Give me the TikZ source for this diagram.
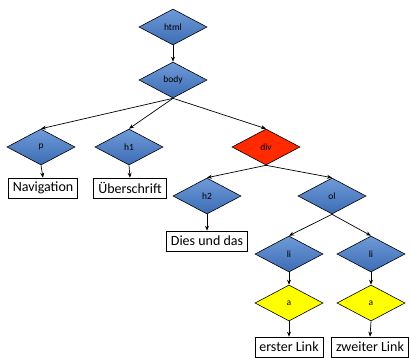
\documentclass[tikz,border=0pt]{standalone}
\usepackage{fontspec}
\setmainfont{Carlito}
\usetikzlibrary{shapes.geometric}
\usetikzlibrary{arrows.meta}
\definecolor{tagtop}{HTML}{6F9AD8}
\definecolor{tagbot}{HTML}{3C6CB4}
\definecolor{divred}{HTML}{FF2A00}
\definecolor{linkyel}{HTML}{FFFF00}
\tikzset{
  tag/.style={diamond, draw=black, line width=0.6pt, inner sep=0pt,
    minimum width=68pt, minimum height=36pt, aspect=1.9,
    top color=tagtop, bottom color=tagbot, font=\fontsize{9.5}{10}\selectfont},
  box/.style={draw=black, line width=0.6pt, fill=white, inner xsep=4.5pt, inner ysep=2pt,
    minimum height=20pt, font=\fontsize{14}{16}\selectfont},
  edge/.style={-{Stealth[length=5pt,width=4pt]}, line width=0.7pt}
}

\begin{document}
\begin{tikzpicture}[x=1pt, y=-1pt]

    \useasboundingbox (0, 0) rectangle (410, 357);

    \node [tag] (html) at (173, 27) {html};
    \node [tag] (body) at (173, 80) {body};

    \node [tag] (p) at (41, 147) {p};
    \node [tag] (h1) at (129, 147) {h1};
    \node [tag, top color=divred, bottom color=divred] (div) at (266, 147) {div};

    \node [box] (nav) at (43, 188) {Navigation};
    \node [box] (ueber) at (130, 188) {Überschrift};

    \node [tag] (h2) at (207, 196) {h2};
    \node [tag] (ol) at (332, 196) {ol};
    \node [box] (dies) at (207, 241) {Dies und das};

    \node [tag] (li1) at (289, 254) {li};
    \node [tag] (li2) at (371, 254) {li};

    \node [tag, top color=linkyel, bottom color=linkyel] (a1) at (289, 303) {a};
    \node [tag, top color=linkyel, bottom color=linkyel] (a2) at (371, 303) {a};

    \node [box] (link1) at (289, 347) {erster Link};
    \node [box] (link2) at (370, 347) {zweiter Link};

    \draw [edge] (html.south) -- (body.north);
    \draw [edge] (body.south) -- (p.north);
    \draw [edge] (body.south) -- (h1.north);
    \draw [edge] (body.south) -- (div.north);
    \draw [edge] (p.south) -- (nav.north);
    \draw [edge] (h1.south) -- (ueber.north);
    \draw [edge] (div.south) -- (h2.north);
    \draw [edge] (div.south) -- (ol.north);
    \draw [edge] (h2.south) -- (dies.north);
    \draw [edge] (ol.south) -- (li1.north);
    \draw [edge] (ol.south) -- (li2.north);
    \draw [edge] (li1.south) -- (a1.north);
    \draw [edge] (li2.south) -- (a2.north);
    \draw [edge] (a1.south) -- (link1.north);
    \draw [edge] (a2.south) -- (link2.north);

\end{tikzpicture}
\end{document}
